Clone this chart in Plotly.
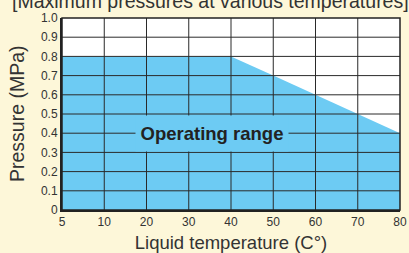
import plotly.graph_objects as go

temps = [5, 10, 20, 30, 40, 50, 60, 70, 80]
max_pressure = [0.8, 0.8, 0.8, 0.8, 0.8, 0.7, 0.6, 0.5, 0.4]
y_ticks = [0, 0.1, 0.2, 0.3, 0.4, 0.5, 0.6, 0.7, 0.8, 0.9, 1.0]
y_labels = ["0", "0.1", "0.2", "0.3", "0.4", "0.5", "0.6", "0.7", "0.8", "0.9", "1.0"]
title_text = "[Maximum pressures at various temperatures]"
region_label = "Operating range"
y_title = "Pressure (MPa)"
x_title = "Liquid temperature (C°)"

cats = [str(t) for t in temps]
FONT = "Liberation Sans, Arial, Helvetica, sans-serif"
BLUE = "#6DCBF3"
GRID = "#2a2a2a"

fig = go.Figure()
fig.add_trace(go.Scatter(
    x=cats, y=max_pressure, mode="lines", fill="tozeroy",
    fillcolor=BLUE, line=dict(width=0, color=BLUE), hoverinfo="skip",
))

shapes = []
for i in range(1, len(cats) - 1):
    shapes.append(dict(type="line", xref="x", yref="paper", x0=i, x1=i, y0=0, y1=1,
                       line=dict(color=GRID, width=1), layer="above"))
for v in y_ticks[1:-1]:
    shapes.append(dict(type="line", xref="paper", yref="y", x0=0, x1=1, y0=v, y1=v,
                       line=dict(color=GRID, width=1), layer="above"))
shapes.append(dict(type="rect", xref="paper", yref="paper", x0=0, x1=1, y0=0, y1=1,
                   line=dict(color="#222", width=1.5), layer="above"))

fig.update_layout(
    width=409, height=253,
    margin=dict(l=62, r=9, t=18, b=43),
    paper_bgcolor="#FDF7D9",
    plot_bgcolor="white",
    showlegend=False,
    shapes=shapes,
    font=dict(family=FONT, color="#333"),
    xaxis=dict(type="category", range=[0, len(cats) - 1], showgrid=False, automargin=False,
               zeroline=False, showline=True, linecolor="#222", linewidth=2,
               ticks="", tickfont=dict(size=12, color="#333"),
               title=dict(text=x_title, font=dict(size=18.5, color="#333"), standoff=8)),
    yaxis=dict(range=[0, 1.0], tickvals=y_ticks, ticktext=y_labels, showgrid=False, automargin=False,
               zeroline=False, showline=True, linecolor="#222", linewidth=2,
               ticks="", tickfont=dict(size=12, color="#333")),
    annotations=[
        dict(text=title_text, xref="paper", yref="paper", x=0.438, y=1.09,
             xanchor="center", yanchor="middle", showarrow=False,
             font=dict(size=19.5, color="#333", family=FONT)),
        dict(text=y_title, xref="paper", yref="paper", x=-0.133, y=0.5, textangle=-90,
             xanchor="center", yanchor="middle", showarrow=False,
             font=dict(size=19.5, color="#333", family=FONT)),
        dict(text="<b>" + region_label + "</b>", xref="x", yref="y", x=3.55, y=0.4,
             xanchor="center", yanchor="middle", showarrow=False,
             bgcolor=BLUE, width=152, height=35, borderpad=0,
             font=dict(size=18.5, color="#222", family=FONT)),
    ],
)

fig.write_html("out.html", config={"displayModeBar": False},
               post_script="document.body.style.margin='0';document.body.style.overflow='hidden';")
